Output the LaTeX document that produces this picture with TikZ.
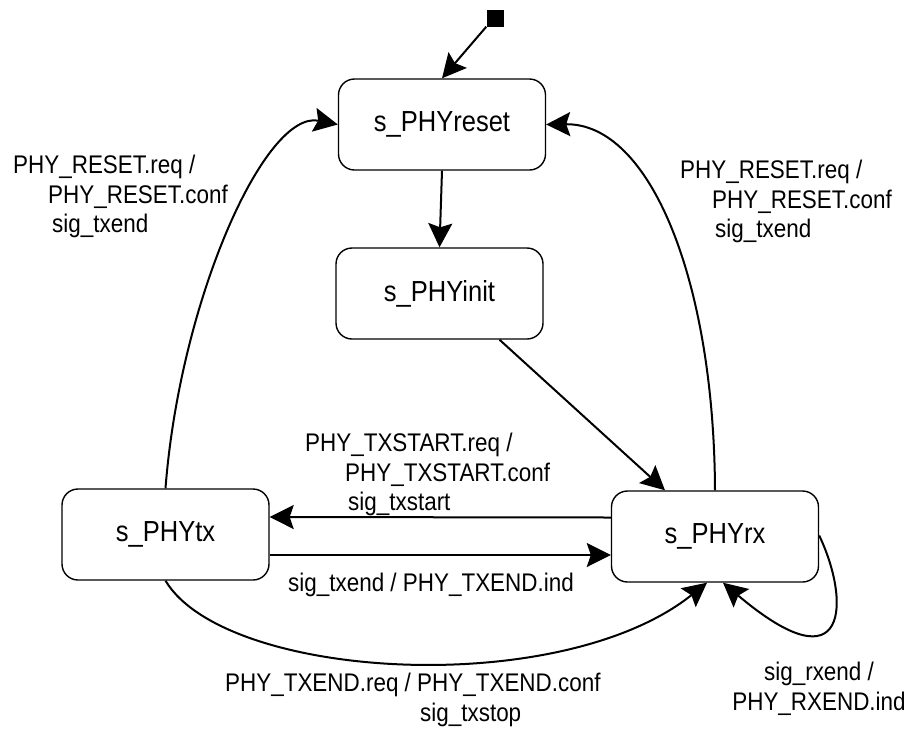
\documentclass[tikz,border=0pt]{standalone}
\usepackage{fontspec}
\setmainfont{Liberation Sans}[FakeStretch=0.88]
\usetikzlibrary{arrows.meta}

\tikzset{
  state/.style={draw, line width=1.4pt, rounded corners=16pt, inner sep=0pt,
                minimum width=207pt, minimum height=91pt,
                font=\fontsize{29}{33}\selectfont},
  conn/.style={line width=2pt, -{Stealth[length=24pt,width=24pt,inset=4pt]}},
  lbl/.style={inner sep=0pt, anchor=north west, align=left},
  every node/.style={font=\fontsize{25.5}{29.5}\selectfont}
}

\begin{document}
\begin{tikzpicture}[x=1pt, y=-1pt]
\useasboundingbox (0,0) rectangle (908,732);

% states
\node[state] (reset) at (442,124.5) {s\_PHYreset};
\node[state] (init)  at (439.5,293.5) {s\_PHYinit};
\node[state] (tx)    at (165.5,534.5) {s\_PHYtx};
\node[state] (rx)    at (715,536.5) {s\_PHYrx};

% initial pseudo-state
\node[fill=black, minimum size=17pt, inner sep=0pt] (start) at (495,18) {};

% transitions
\draw[conn] (start.south west) -- (reset.north);
\draw[conn] (reset.south) -- (init.north);
\draw[conn] ([xshift=60pt]init.south) -- ([xshift=-50pt]rx.north);
\draw[conn] (tx.north) .. controls (180,300) and (265,110) .. (reset.west);
\draw[conn] (rx.north) .. controls (714,280) and (650,123) .. (reset.east);
\draw[conn] ([yshift=19pt]rx.west) -- ([yshift=17.5pt]tx.east);
\draw[conn] ([yshift=-20.5pt]tx.east) -- ([yshift=-18.5pt]rx.west);
\draw[conn] (tx.south) .. controls (225,680) and (560,700) .. ([xshift=-8pt]rx.south);
\draw[conn] ([yshift=1pt]rx.east) .. controls (850,600) and (850,690) .. ([xshift=8pt]rx.south);

% transition labels
\node[lbl] (lreset) at (13,155)
  {PHY\_RESET.req /\\\hspace*{35pt}PHY\_RESET.conf\\\hspace*{39pt}sig\_txend};
\node[lbl] (rreset) at (680,160)
  {PHY\_RESET.req /\\\hspace*{32pt}PHY\_RESET.conf\\\hspace*{35pt}sig\_txend};
\node[lbl] (ltxstart) at (305,433)
  {PHY\_TXSTART.req /\\\hspace*{40pt}PHY\_TXSTART.conf\\\hspace*{43pt}sig\_txstart};
\node[lbl] (ltxend) at (288,573) {sig\_txend / PHY\_TXEND.ind};
\node[lbl] (ltxstop) at (225,673)
  {PHY\_TXEND.req / PHY\_TXEND.conf\\\hspace*{195pt}sig\_txstop};
\node[inner sep=0pt, anchor=north, align=center] (lrxend) at (819,662)
  {sig\_rxend /\\PHY\_RXEND.ind};
\end{tikzpicture}
\end{document}
